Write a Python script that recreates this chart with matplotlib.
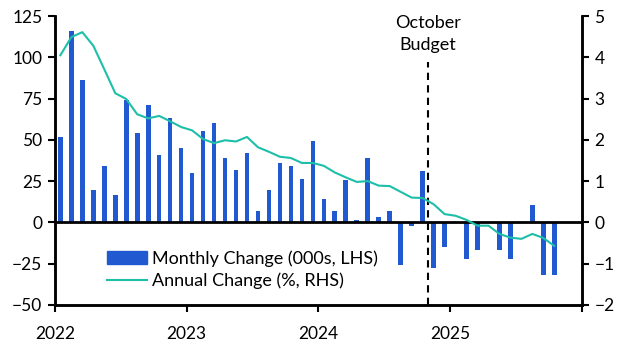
import matplotlib
matplotlib.use("Agg")
import matplotlib.pyplot as plt
import matplotlib.transforms as mtransforms
from matplotlib.patches import Patch
from matplotlib.lines import Line2D

plt.rcParams['font.family'] = ['Lato', 'DejaVu Sans']

# monthly data Jan 2022 - Oct 2025
monthly_change = [52, 116, 86, 19.5, 34, 16.5, 74, 54, 71, 41, 63.5, 45,
                  30, 55.6, 60, 39, 31.5, 42, 7, 19.5, 36, 34, 26, 49.6,
                  14, 7, 25.5, 1.4, 39, 3, 7, -26, -2.2, 31, -27.4, -14.7,
                  0, -22.5, -17, 0, -16.5, -22.5, 0, 10.4, -31.6, -31.6]
annual_change = [4.05, 4.49, 4.61, 4.28, 3.71, 3.13, 2.99, 2.62, 2.52, 2.58, 2.45, 2.31,
                 2.23, 2.02, 1.92, 1.99, 1.96, 2.07, 1.82, 1.71, 1.59, 1.56, 1.44, 1.44,
                 1.37, 1.21, 1.09, 0.98, 1.00, 0.89, 0.88, 0.74, 0.60, 0.59, 0.44, 0.20,
                 0.16, 0.06, -0.08, -0.08, -0.28, -0.37, -0.40, -0.28, -0.38, -0.57]
year_labels = ['2022', '2023', '2024', '2025', '']
budget_month = 33 + 30 / 31  # 30 Oct 2024

bar_color = '#2159d1'
line_color = '#1dbfa9'

months = [i + 0.5 for i in range(len(monthly_change))]

fig = plt.figure(figsize=(6.31, 3.57), dpi=100)
ax = fig.add_axes([0.087, 0.146, 0.835, 0.809])
ax2 = ax.twinx()

ax.bar(months, monthly_change, width=0.42, color=bar_color, zorder=2)
ax2.plot(months, annual_change, color=line_color, lw=1.5, zorder=3)

ax.axhline(0, color='black', lw=2, zorder=4)
ax.vlines(budget_month, -50, 97, colors='black', linestyles=(0, (3.5, 2.5)), lw=1.5, zorder=4)
ax.text(budget_month, 114, 'October\nBudget', ha='center', va='center', fontsize=13,
        linespacing=1.5)

ax.set_xlim(0, 48)
ax.set_ylim(-50, 125)
ax2.set_ylim(-2, 5)
ax.set_yticks(range(-50, 126, 25))
ax2.set_yticks(range(-2, 6))
ax.set_xticks(range(0, 49, 12))
ax.set_xticklabels(year_labels)
offset = mtransforms.ScaledTranslation(6 / 100, 0, fig.dpi_scale_trans)
for lbl in ax.get_xticklabels():
    lbl.set_transform(lbl.get_transform() + offset)

for a in (ax, ax2):
    a.spines['top'].set_visible(False)
    for s in ('left', 'right', 'bottom'):
        a.spines[s].set_linewidth(1.8)
    a.tick_params(width=1.5, length=5, labelsize=12.5, pad=4)
ax.tick_params(axis='x', pad=10)

handles = [Patch(color=bar_color), Line2D([], [], color=line_color, lw=1.5)]
ax.legend(handles, ['Monthly Change (000s, LHS)', 'Annual Change (%, RHS)'],
          loc='upper left', bbox_to_anchor=(0.082, 0.22), frameon=False, fontsize=13,
          handlelength=2.2, handleheight=0.67, handletextpad=0.3, labelspacing=0.3,
          borderpad=0)

fig.savefig('out.png', dpi=100)
